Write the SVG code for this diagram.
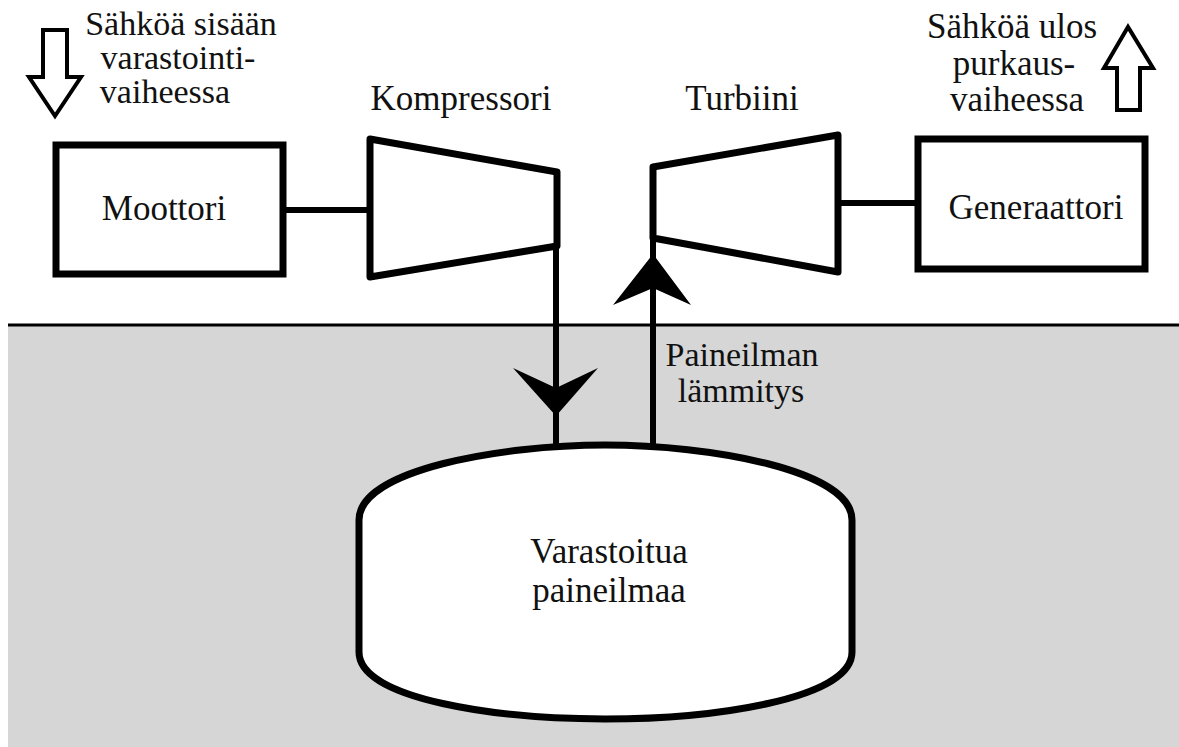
<svg xmlns="http://www.w3.org/2000/svg" width="1179" height="747" viewBox="0 0 1179 747">
<style>
.t{font-family:'Liberation Serif','Tinos','Times New Roman','DejaVu Serif',serif;font-size:35px;fill:#111;text-anchor:middle}
.box{fill:#fff;stroke:#000;stroke-width:7}
.ln{fill:none;stroke:#000;stroke-width:6;stroke-linecap:round;stroke-linejoin:round}
.hollow{fill:#fff;stroke:#000;stroke-width:4;stroke-linejoin:miter}
.head{fill:#000;stroke:none}
</style>
<rect width="1179" height="747" fill="#fff"/>
<g id="ground">
<rect x="8" y="325" width="1171" height="422" fill="#d6d6d6"/>
<line x1="8" y1="325" x2="1179" y2="325" stroke="#000" stroke-width="3"/>
</g>
<g id="input-label">
<polygon class="hollow" points="43,30 67,30 67,77 81,77 55,116 29,77 43,77"/>
<text class="t" x="181" y="35" style="font-size:34px">Sähköä sisään</text>
<text class="t" x="178" y="69" style="font-size:34px">varastointi-</text>
<text class="t" x="165" y="103" style="font-size:34px">vaiheessa</text>
</g>
<g id="output-label">
<polygon class="hollow" points="1117,110 1140,110 1140,68 1153,68 1128,27 1104,68 1117,68"/>
<text class="t" x="1012" y="38">Sähköä ulos</text>
<text class="t" x="1014" y="75">purkaus-</text>
<text class="t" x="1017" y="111">vaiheessa</text>
</g>
<g id="connectors">
<line class="ln" x1="283" y1="210" x2="374" y2="210"/>
<line class="ln" x1="838" y1="203" x2="918" y2="203"/>
<line class="ln" x1="556" y1="246" x2="556" y2="447"/>
<line class="ln" x1="653" y1="167" x2="653" y2="447"/>
<polygon class="head" points="513,368 556,388 598,368 556,416"/>
<polygon class="head" points="613,305 653,288 691,305 653,254"/>
</g>
<g id="moottori">
<rect class="box" x="56" y="145" width="227" height="129"/>
<text class="t" x="164" y="220">Moottori</text>
</g>
<g id="kompressori">
<polygon class="box" points="370,139 557,172 557,246 370,277" stroke-linejoin="round"/>
<text class="t" x="461" y="110">Kompressori</text>
</g>
<g id="turbiini">
<polygon class="box" points="653,167 838,135 838,272 653,238" stroke-linejoin="round"/>
<text class="t" x="742" y="110">Turbiini</text>
</g>
<g id="generaattori">
<rect class="box" x="918" y="139" width="227" height="130"/>
<text class="t" x="1036" y="219">Generaattori</text>
</g>
<g id="heating-label">
<text class="t" x="742" y="366" style="font-size:34px">Paineilman</text>
<text class="t" x="741" y="402" style="font-size:34px">lämmitys</text>
</g>
<g id="tank">
<path class="box" d="M359,520 C359,470 500,445 605,445 C710,445 852,470 852,520 L852,652 C852,700 710,719 605,719 C500,719 359,700 359,652 Z"/>
<text class="t" x="609" y="563">Varastoitua</text>
<text class="t" x="609" y="602">paineilmaa</text>
</g>
</svg>
